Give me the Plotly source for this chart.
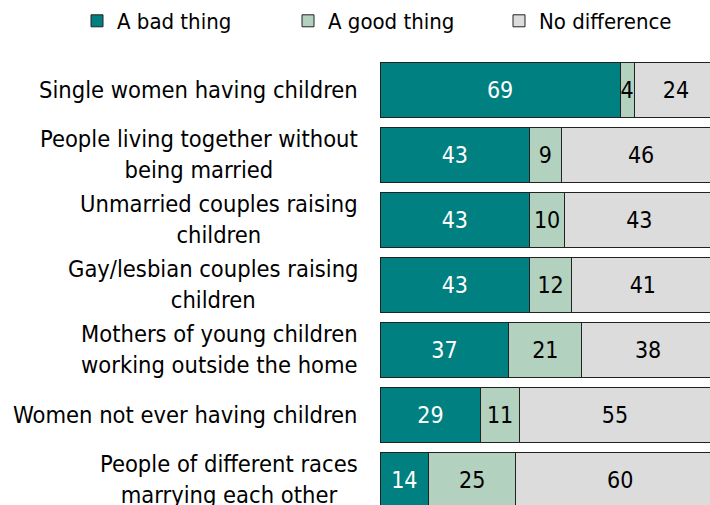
import plotly.graph_objects as go

categories = [
    "Single women having children",
    "People living together without<br>being married",
    "Unmarried couples raising<br>children",
    "Gay/lesbian couples raising<br>children",
    "Mothers of young children<br>working outside the home",
    "Women not ever having children",
    "People of different races<br>marrying each other",
]
bad_thing = [69, 43, 43, 43, 37, 29, 14]
good_thing = [4, 9, 10, 12, 21, 11, 25]
no_difference = [24, 46, 43, 41, 38, 55, 60]

series = [
    ("A bad thing", bad_thing, "#008080", "white"),
    ("A good thing", good_thing, "#b3d1bf", "black"),
    ("No difference", no_difference, "#dcdcdc", "black"),
]

FONT = "DejaVu Sans Condensed, DejaVu Sans, sans-serif"

fig = go.Figure()
for name, vals, color, txtcolor in series:
    fig.add_trace(go.Bar(
        y=categories,
        x=vals,
        name=name,
        orientation="h",
        marker=dict(color=color, line=dict(color="#222222", width=1)),
        text=[str(v) for v in vals],
        textposition="inside",
        insidetextanchor="middle",
        textangle=0,
        constraintext="none",
        textfont=dict(family=FONT, size=23, color=txtcolor),
    ))

# Category labels: right-aligned block, each line centred
for cat in categories:
    fig.add_annotation(
        x=0, xref="paper", y=cat, yref="y",
        text=cat, showarrow=False,
        xanchor="right", xshift=-20,
        align="center",
        font=dict(family=FONT, size=23.5, color="black"),
    )

PLOT_W = 710 - 380
PLOT_H = 505 - 57

fig.update_layout(
    barmode="stack",
    bargap=0.154,
    width=710,
    height=505,
    margin=dict(l=380, r=0, t=57, b=0, autoexpand=False),
    paper_bgcolor="white",
    plot_bgcolor="white",
    font=dict(family=FONT, size=22, color="black"),
    showlegend=True,
    legend=dict(
        orientation="h",
        x=(77 - 380) / PLOT_W,
        xanchor="left",
        y=1 + 57 / PLOT_H,
        yanchor="top",
        entrywidth=166,
        bgcolor="rgba(0,0,0,0)",
        font=dict(family=FONT, size=22, color="black"),
        traceorder="normal",
    ),
    uniformtext=dict(minsize=23, mode="show"),
)
fig.update_xaxes(range=[0, 94.8], visible=False, fixedrange=True)
fig.update_yaxes(
    categoryorder="array",
    categoryarray=categories,
    range=[6.392, -0.5],
    showgrid=False,
    zeroline=False,
    showline=False,
    ticks="",
    showticklabels=False,
)

fig.write_html("out.html")
